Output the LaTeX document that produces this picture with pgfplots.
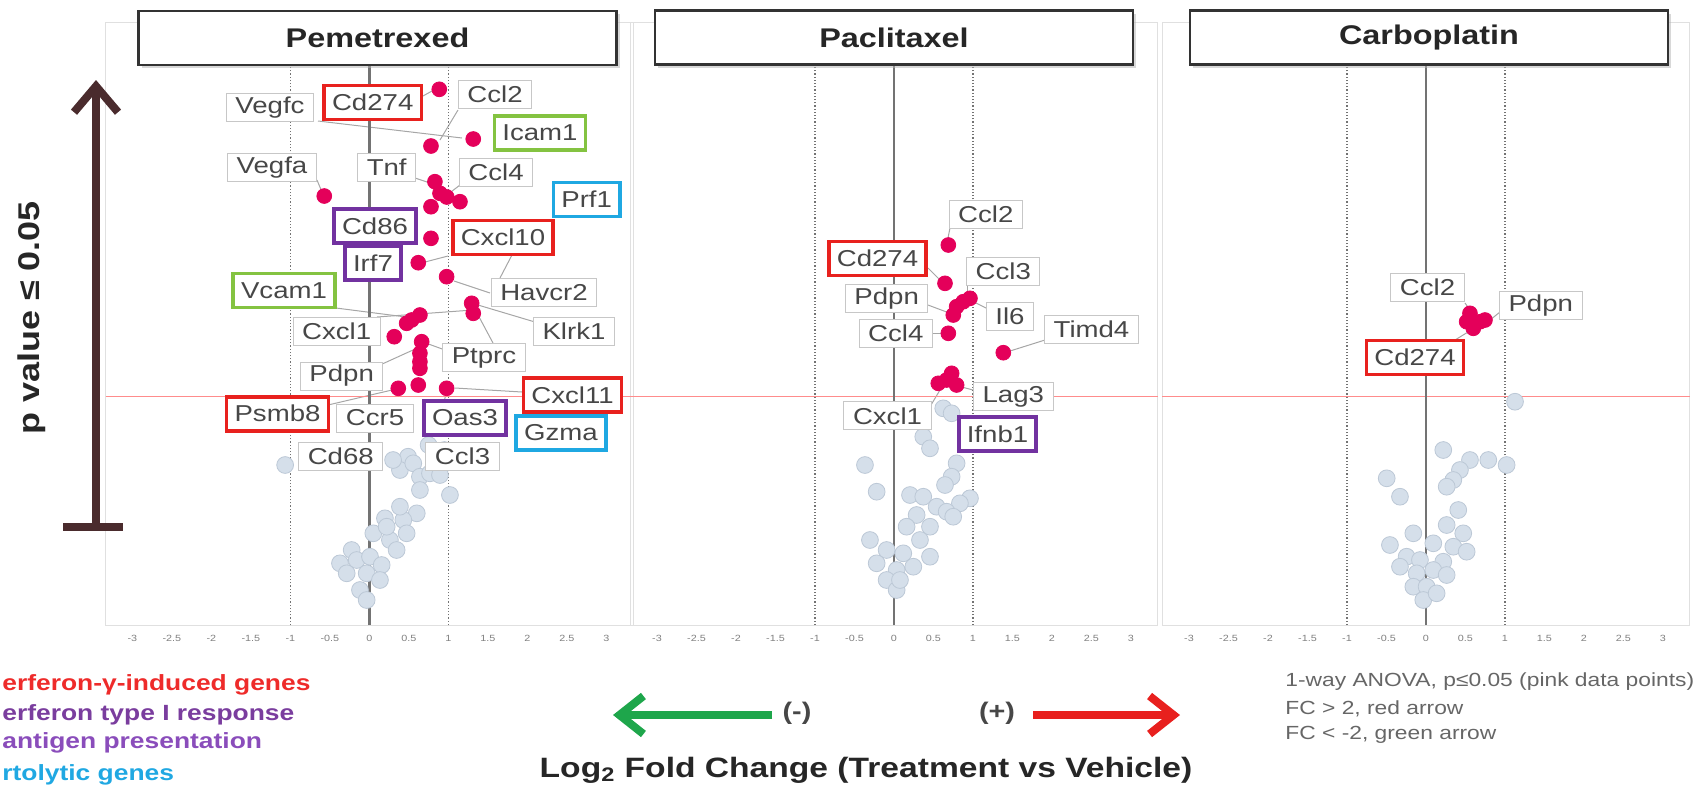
\documentclass[border=0pt]{standalone}
\usepackage{fontspec}
\setmainfont{Liberation Sans}[FakeStretch=1.2]
\usepackage{pgfplots}
\pgfplotsset{compat=1.18}
\usetikzlibrary{arrows.meta,shadows}

\definecolor{pinkpt}{HTML}{E4005A}
\definecolor{graypt}{HTML}{D5DFEA}
\definecolor{graypte}{HTML}{BCC8D6}
\definecolor{cred}{HTML}{E8211E}
\definecolor{cgreen}{HTML}{84C341}
\definecolor{cpurple}{HTML}{7232A0}
\definecolor{ccyan}{HTML}{1FA8E2}
\definecolor{arrowbrown}{HTML}{4A2B2D}
\definecolor{agreen}{HTML}{1EA64B}
\definecolor{ared}{HTML}{E8201E}
\definecolor{lgred}{HTML}{EE2B2A}
\definecolor{lgpur}{HTML}{7A3D9E}
\definecolor{lgvio}{HTML}{8A4DBB}
\definecolor{lgcyan}{HTML}{20A8E2}

\newcommand\labfont{\fontsize{11.5}{12}\selectfont}

\pgfplotsset{panel/.style={
  x=39.5pt, y=50pt, xmin=-3.34, xmax=3.34, ymin=0, ymax=6.03,
  anchor=south west,
  axis line style={draw=black!12, line width=0.5pt},
  ytick=\empty,
  xtick={-3,-2.5,-2,-1.5,-1,-0.5,0,0.5,1,1.5,2,2.5,3},
  major tick length=0pt,
  xticklabel style={font=\fontsize{4.5}{5}\selectfont, text=black!50, yshift=-1.5pt},
  /pgf/number format/assume math mode=true,
}}
\newcommand\panelbase{%
  \draw[red!45, line width=0.4pt] (axis cs:-3.34,2.285) -- (axis cs:3.34,2.285);
  \draw[black!55, densely dotted, line width=0.6pt] (axis cs:-1,0) -- (axis cs:-1,6.03);
  \draw[black!55, densely dotted, line width=0.6pt] (axis cs:1,0) -- (axis cs:1,6.03);
  \draw[black!55, line width=1.3pt] (axis cs:0,0) -- (axis cs:0,6.03);
}

\tikzset{
  lb/.style={draw=black!22, line width=0.5pt, fill=white, text=black!72, font=\labfont,
    inner xsep=4.5pt, inner ysep=0pt, minimum height=14pt},
  cb/.style={lb, draw=#1, line width=1.8pt, minimum height=17pt, inner xsep=4pt},
  ld/.style={draw=black!35, line width=0.5pt},
  ttl/.style={draw=black!80, line width=1.3pt, fill=white,
    drop shadow={shadow xshift=1.5pt, shadow yshift=-1.5pt, fill=black!30},
    font=\bfseries\fontsize{13.5}{14}\selectfont, text=black!85,
    minimum width=239pt, minimum height=27pt},
  gpt/.style={only marks, mark=*, mark size=4.2pt, mark options={fill=graypt, draw=graypte, line width=0.4pt}},
  ppt/.style={only marks, mark=*, mark size=3.7pt, mark options={fill=pinkpt, draw=pinkpt}},
  lgd/.style={anchor=west, inner sep=0pt, font=\bfseries\fontsize{11}{12}\selectfont},
}

\begin{document}
\begin{tikzpicture}[x=0.5pt, y=-0.5pt]

% leader lines (under the points)
\draw[ld] (318,121) -- (462,138);
\draw[ld] (458,110) -- (440,140);
\draw[ld] (423,96) -- (432,91);
\draw[ld] (317,180) -- (322,192);
\draw[ld] (415,178) -- (430,183);
\draw[ld] (460,185) -- (447,195);
\draw[ld] (513,253) -- (500,278);
\draw[ld] (425,262) -- (448,256);
\draw[ld] (490,293) -- (454,281);
\draw[ld] (336,308) -- (406,317);
\draw[ld] (377,317) -- (473,310);
\draw[ld] (535,322) -- (478,305);
\draw[ld] (493,343) -- (477,313);
\draw[ld] (445,350) -- (423,342);
\draw[ld] (380,365) -- (413,350);
\draw[ld] (522,392) -- (455,388);
\draw[ld] (328,405) -- (392,390);
\draw[ld] (444,402) -- (446,394);
\draw[ld] (950,228) -- (948,238);
\draw[ld] (928,268) -- (940,280);
\draw[ld] (967,285) -- (967,294);
\draw[ld] (928,305) -- (952,314);
\draw[ld] (990,310) -- (970,300);
\draw[ld] (1045,340) -- (1010,351);
\draw[ld] (931,333) -- (941,333);
\draw[ld] (973,390) -- (958,386);
\draw[ld] (931,405) -- (940,390);
\draw[ld] (1465,303) -- (1470,310);
\draw[ld] (1500,312) -- (1490,320);
\draw[ld] (1455,340) -- (1468,332);

% ---------- Panel 1: Pemetrexed ----------
\begin{axis}[panel, at={(52.75pt,-312.5pt)}]
\panelbase
\addplot[gpt] coordinates {(-1.066,1.6) (0.49,1.683) (0.387,1.55) (0.556,1.617) (0.64,1.483) (0.767,1.517) (0.64,1.35) (0.894,1.5) (1.02,1.3) (0.30,1.65) (0.6,1.117) (0.43,1.05) (0.197,1.067) (0.472,0.917) (0.26,0.85) (0.345,0.75) (0.05,0.917) (-0.224,0.75) (-0.372,0.617) (-0.16,0.65) (0.008,0.683) (0.156,0.6) (-0.287,0.517) (-0.034,0.517) (-0.119,0.35) (-0.034,0.25) (0.134,0.45) (0.219,0.983) (0.387,1.183) (0.95,1.75) (0.75,1.8)};
\addplot[ppt] coordinates {(0.885,5.357) (1.315,4.86) (0.78,4.79) (-0.571,4.29) (0.83,4.433) (0.894,4.317) (0.98,4.28) (1.147,4.233) (0.78,4.183) (0.78,3.867) (0.619,3.623) (0.978,3.483) (1.295,3.217) (1.315,3.117) (0.64,3.10) (0.535,3.05) (0.472,3.017) (0.315,2.883) (0.662,2.833) (0.64,2.717) (0.64,2.633) (0.64,2.567) (0.366,2.367) (0.619,2.40) (0.978,2.367)};
\end{axis}

% ---------- Panel 2: Paclitaxel ----------
\begin{axis}[panel, at={(315.05pt,-312.5pt)}]
\panelbase
\addplot[gpt] coordinates {(0.624,2.167) (0.73,2.117) (0.371,1.883) (0.456,1.767) (-0.367,1.60) (0.793,1.617) (0.73,1.483) (0.646,1.40) (-0.219,1.333) (0.962,1.267) (0.835,1.217) (0.203,1.30) (0.371,1.283) (0.54,1.183) (0.667,1.133) (0.287,1.10) (0.16,0.983) (0.456,0.983) (0.329,0.85) (-0.304,0.85) (-0.093,0.75) (0.118,0.717) (-0.219,0.617) (0.034,0.55) (-0.093,0.45) (0.034,0.35) (0.245,0.583) (0.456,0.683) (0.75,1.083) (0.076,0.45)};
\addplot[ppt] coordinates {(0.688,3.80) (0.646,3.417) (0.962,3.267) (0.877,3.233) (0.793,3.183) (0.751,3.10) (0.688,2.917) (1.384,2.723) (0.73,2.517) (0.561,2.417) (0.793,2.40) (0.667,2.45)};
\end{axis}

% ---------- Panel 3: Carboplatin ----------
\begin{axis}[panel, at={(581.05pt,-312.5pt)}]
\panelbase
\addplot[gpt] coordinates {(1.127,2.233) (0.219,1.75) (0.557,1.65) (0.789,1.65) (1.021,1.60) (0.43,1.55) (0.346,1.45) (0.262,1.383) (-0.497,1.467) (-0.329,1.283) (0.409,1.15) (0.262,1.00) (-0.16,0.917) (0.472,0.917) (-0.456,0.80) (0.093,0.817) (0.346,0.783) (0.515,0.733) (-0.245,0.683) (-0.076,0.65) (0.219,0.633) (-0.329,0.583) (-0.118,0.517) (0.093,0.55) (0.262,0.50) (-0.16,0.383) (0.008,0.383) (-0.034,0.25) (0.135,0.317)};
\addplot[ppt] coordinates {(0.557,3.117) (0.684,3.033) (0.599,2.967) (0.515,3.033) (0.747,3.05)};
\end{axis}

% ---------- gene labels ----------
\node[lb] at (270,107.5) {Vegfc};
\node[cb=cred] at (372.7,102.5) {Cd274};
\node[lb] at (495,94) {Ccl2};
\node[cb=cgreen] at (540,133) {Icam1};
\node[lb] at (272,167.5) {Vegfa};
\node[lb] at (386.7,167.5) {Tnf};
\node[lb] at (496,172.5) {Ccl4};
\node[cb=ccyan] at (586.7,199.5) {Prf1};
\node[cb=cpurple] at (375,226) {Cd86};
\node[cb=cred] at (503,237.5) {Cxcl10};
\node[cb=cpurple] at (373,263) {Irf7};
\node[cb=cgreen] at (284,290.5) {Vcam1};
\node[lb] at (544,292.5) {Havcr2};
\node[lb] at (336.7,331) {Cxcl1};
\node[lb] at (574,331) {Klrk1};
\node[lb] at (484,357.5) {Ptprc};
\node[lb] at (341.7,376) {Pdpn};
\node[cb=cred] at (572.5,395) {Cxcl11};
\node[cb=cred] at (277.5,413.7) {Psmb8};
\node[lb] at (375,418) {Ccr5};
\node[cb=cpurple] at (465,418) {Oas3};
\node[cb=ccyan] at (561,433) {Gzma};
\node[lb] at (340.8,456.7) {Cd68};
\node[lb] at (462.5,456.7) {Ccl3};

\node[lb] at (985.8,214) {Ccl2};
\node[cb=cred] at (877.5,258.3) {Cd274};
\node[lb] at (1003.3,271) {Ccl3};
\node[lb] at (886.7,298.3) {Pdpn};
\node[lb] at (1010,316) {Il6};
\node[lb] at (1091.5,329.6) {Timd4};
\node[lb] at (895.8,333.3) {Ccl4};
\node[lb] at (1013.3,396.7) {Lag3};
\node[lb] at (887.5,415.8) {Cxcl1};
\node[cb=cpurple] at (997.5,434) {Ifnb1};

\node[lb] at (1427.5,287.5) {Ccl2};
\node[lb] at (1540.8,305.8) {Pdpn};
\node[cb=cred] at (1415,357.5) {Cd274};

% ---------- panel titles ----------
\node[ttl] at (377.5,38) {Pemetrexed};
\node[ttl] at (894,37.5) {Paclitaxel};
\node[ttl] at (1429,37.5) {Carboplatin};

% ---------- y annotation ----------
\node[rotate=90, font=\bfseries\fontsize{15}{16}\selectfont, text=black!85] at (32,318) {p value ≤ 0.05};
\draw[arrowbrown, line width=4pt, -{Straight Barb[length=13pt,width=22pt]}] (96,527) -- (96,80);
\draw[arrowbrown, line width=4pt] (63,527) -- (123,527);

% ---------- x annotation ----------
\draw[agreen, line width=4pt, -{Straight Barb[length=12pt,width=19pt]}] (772,715) -- (613,715);
\draw[ared, line width=4pt, -{Straight Barb[length=12pt,width=19pt]}] (1033,715) -- (1180,715);
\node[font=\bfseries\fontsize{12}{13}\selectfont, text=black!72] at (797,713) {(-)};
\node[font=\bfseries\fontsize{12}{13}\selectfont, text=black!72] at (997,713) {(+)};
\node[anchor=base, font=\bfseries\fontsize{14}{15}\selectfont, text=black!85] at (866,777) {Log\textsubscript{2} Fold Change (Treatment vs Vehicle)};

% ---------- notes ----------
\node[anchor=west, font=\fontsize{9.5}{10}\selectfont, text=black!60, inner sep=0pt] at (1285,682) {1-way ANOVA, p≤0.05 (pink data points)};
\node[anchor=west, font=\fontsize{9.5}{10}\selectfont, text=black!60, inner sep=0pt] at (1285,709) {FC > 2, red arrow};
\node[anchor=west, font=\fontsize{9.5}{10}\selectfont, text=black!60, inner sep=0pt] at (1285,735) {FC < -2, green arrow};

% ---------- category legend (as visible at the left edge) ----------
\node[lgd, text=lgred] at (2,685) {erferon-γ-induced genes};
\node[lgd, text=lgpur] at (2,715) {erferon type I response};
\node[lgd, text=lgvio] at (2,743) {antigen presentation};
\node[lgd, text=lgcyan] at (2,775) {rtolytic genes};

\pgfresetboundingbox
\path[use as bounding box] (0,0) rectangle (1694,789);
\end{tikzpicture}
\end{document}
